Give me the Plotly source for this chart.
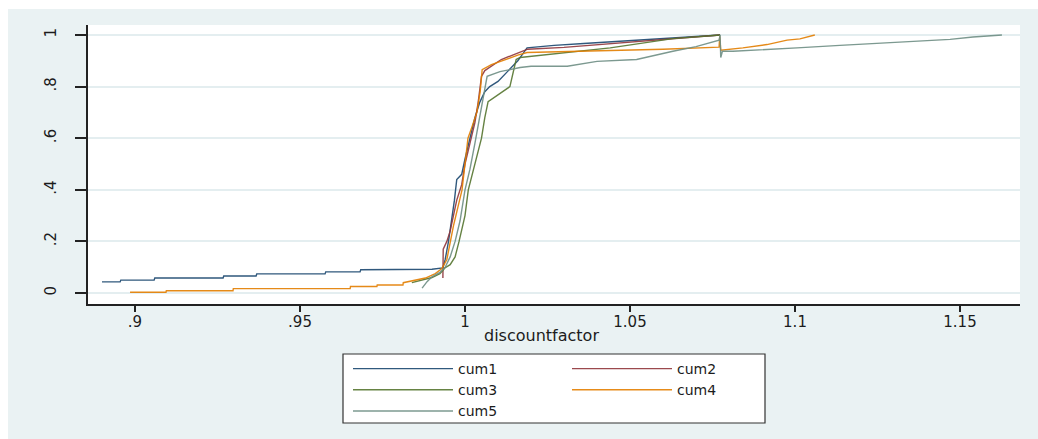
import plotly.graph_objects as go

# Cumulative shares by discount factor, five series
x_cum1 = [0.8900, 0.8955, 0.8957, 0.9058, 0.9060, 0.9267, 0.9269, 0.9367, 0.9369, 0.9576, 0.9578,
          0.9682, 0.9684, 0.9900, 0.9933, 0.9940, 0.9950, 0.9960, 0.9968, 0.9975, 0.9990, 1.0000,
          1.0015, 1.0030, 1.0045, 1.0060, 1.0075, 1.0100, 1.0130, 1.0160, 1.0188, 1.0270, 1.0360,
          1.0510, 1.0640, 1.0773]
y_cum1 = [0.043, 0.043, 0.050, 0.050, 0.058, 0.058, 0.066, 0.066, 0.074, 0.074, 0.082,
          0.082, 0.090, 0.092, 0.097, 0.130, 0.200, 0.280, 0.360, 0.440, 0.460, 0.520,
          0.600, 0.680, 0.740, 0.780, 0.800, 0.820, 0.860, 0.900, 0.950, 0.960, 0.967,
          0.979, 0.989, 1.000]

x_cum2 = [0.9933, 0.9934, 0.9945, 0.9955, 0.9965, 0.9975, 0.9990, 1.0000, 1.0015, 1.0030, 1.0040,
          1.0050, 1.0060, 1.0080, 1.0110, 1.0150, 1.0190, 1.0300, 1.0400, 1.0550, 1.0660, 1.0773]
y_cum2 = [0.058, 0.170, 0.200, 0.240, 0.300, 0.360, 0.420, 0.500, 0.580, 0.660, 0.740,
          0.840, 0.862, 0.880, 0.905, 0.925, 0.945, 0.952, 0.962, 0.975, 0.986, 1.000]

x_cum3 = [0.9839, 0.9870, 0.9900, 0.9924, 0.9939, 0.9955, 0.9970, 0.9982, 0.9990, 1.0000, 1.0010,
          1.0020, 1.0035, 1.0050, 1.0060, 1.0070, 1.0136, 1.0155, 1.0167, 1.0220, 1.0350, 1.0440,
          1.0630, 1.0773]
y_cum3 = [0.040, 0.050, 0.060, 0.075, 0.097, 0.110, 0.140, 0.200, 0.250, 0.300, 0.400,
          0.450, 0.520, 0.600, 0.680, 0.742, 0.800, 0.905, 0.913, 0.920, 0.937, 0.950,
          0.986, 1.000]

x_cum4 = [0.8985, 0.9094, 0.9095, 0.9297, 0.9298, 0.9652, 0.9653, 0.9733, 0.9734, 0.9812, 0.9813,
          0.9839, 0.9880, 0.9910, 0.9930, 0.9945, 0.9955, 0.9965, 0.9978, 0.9991, 1.0000, 1.0009,
          1.0020, 1.0036, 1.0046, 1.0052, 1.0080, 1.0120, 1.0160, 1.0188, 1.0300, 1.0470, 1.0600,
          1.0770, 1.0772, 1.0775, 1.0842, 1.0915, 1.0976, 1.1015, 1.1060]
y_cum4 = [0.003, 0.003, 0.009, 0.009, 0.017, 0.017, 0.025, 0.025, 0.031, 0.031, 0.040,
          0.048, 0.058, 0.075, 0.095, 0.130, 0.200, 0.260, 0.330, 0.400, 0.500, 0.600,
          0.640, 0.700, 0.780, 0.866, 0.885, 0.905, 0.922, 0.932, 0.935, 0.940, 0.945,
          0.953, 0.995, 0.941, 0.950, 0.963, 0.980, 0.985, 1.000]

x_cum5 = [0.9870, 0.9885, 0.9900, 0.9924, 0.9940, 0.9955, 0.9970, 0.9985, 1.0000, 1.0015, 1.0030,
          1.0045, 1.0060, 1.0067, 1.0106, 1.0167, 1.0200, 1.0310, 1.0400, 1.0520, 1.0630, 1.0700,
          1.0770, 1.0773, 1.0775, 1.0780, 1.0812, 1.0945, 1.1006, 1.1136, 1.1267, 1.1339, 1.1470,
          1.1539, 1.1627]
y_cum5 = [0.019, 0.044, 0.063, 0.080, 0.100, 0.140, 0.200, 0.280, 0.400, 0.480, 0.580,
          0.680, 0.790, 0.840, 0.858, 0.874, 0.879, 0.879, 0.898, 0.905, 0.937, 0.955,
          0.980, 1.000, 0.913, 0.937, 0.937, 0.945, 0.950, 0.960, 0.969, 0.975, 0.983,
          0.992, 1.000]

series_names = ["cum1", "cum2", "cum3", "cum4", "cum5"]
series_x = [x_cum1, x_cum2, x_cum3, x_cum4, x_cum5]
series_y = [y_cum1, y_cum2, y_cum3, y_cum4, y_cum5]
series_colors = ["#1a476f", "#90353b", "#55752f", "#e37e00", "#6e8e84"]
series_legend = ["legend", "legend2", "legend", "legend2", "legend"]

x_tickvals = [0.9, 0.95, 1.0, 1.05, 1.1, 1.15]
x_ticktext = [".9", ".95", "1", "1.05", "1.1", "1.15"]
y_tickvals = [0, 0.2, 0.4, 0.6, 0.8, 1.0]
y_ticktext = ["0", ".2", ".4", ".6", ".8", "1"]

W, H = 1038, 439
L, R, T, B = 88, 18, 25, 135
pw, ph = W - L - R, H - T - B

def px_x(p):
    return (p - L) / pw

def px_y(p):
    return (H - B - p) / ph

FONT = "DejaVu Sans"
TXT = "#1c1c1c"
BG = "#eaf2f3"

fig = go.Figure()
for name, xs, ys, col, lg in zip(series_names, series_x, series_y, series_colors, series_legend):
    fig.add_trace(go.Scatter(
        x=xs, y=ys, mode="lines", name=name, legend=lg,
        line=dict(color=col, width=1.4), opacity=0.9,
    ))

legend_common = dict(
    xref="container", yref="container", xanchor="left", yanchor="top",
    bgcolor="rgba(0,0,0,0)", borderwidth=0, itemwidth=100, tracegroupgap=0,
    font=dict(family=FONT, size=14, color=TXT),
)

fig.update_layout(
    width=W, height=H,
    margin=dict(l=L, r=R, t=T, b=B, pad=0, autoexpand=False),
    paper_bgcolor=BG, plot_bgcolor="white",
    showlegend=True,
    legend=dict(x=348 / W, y=1 - 353 / H, **legend_common),
    legend2=dict(x=567 / W, y=1 - 353 / H, **legend_common),
    xaxis=dict(
        range=[0.88576, 1.16818], tickvals=x_tickvals, ticktext=x_ticktext,
        showgrid=False, zeroline=False, showline=True, linecolor="#222", linewidth=1.6,
        ticks="outside", ticklen=6, tickwidth=1.6, tickcolor="#222",
        tickfont=dict(family=FONT, size=15, color=TXT), ticklabelstandoff=-3,
        automargin=False,
    ),
    yaxis=dict(
        range=[-0.0426, 1.0388], tickvals=y_tickvals, ticktext=y_ticktext,
        showgrid=True, gridcolor="#e4eef0", gridwidth=1.5, zeroline=False,
        showline=True, linecolor="#222", linewidth=1.6,
        ticks="outside", ticklen=11, tickwidth=1.6, tickcolor="#222", tickangle=-90,
        tickfont=dict(family=FONT, size=15, color=TXT), ticklabelstandoff=13,
        automargin=False,
    ),
    shapes=[
        # white strips framing the graph region
        dict(type="rect", xref="paper", yref="paper", x0=px_x(0), x1=px_x(W), y0=px_y(9), y1=px_y(-5),
             fillcolor="white", line=dict(width=0), layer="below"),
        dict(type="rect", xref="paper", yref="paper", x0=px_x(-5), x1=px_x(8), y0=px_y(H + 5), y1=px_y(-5),
             fillcolor="white", line=dict(width=0), layer="below"),
        # legend frame
        dict(type="rect", xref="paper", yref="paper", x0=px_x(343), x1=px_x(765), y0=px_y(423), y1=px_y(354),
             fillcolor="white", line=dict(color="#333", width=1.2), layer="below"),
    ],
    annotations=[
        dict(text="discountfactor", xref="paper", yref="paper", x=px_x(541), y=px_y(335),
             xanchor="center", yanchor="middle", showarrow=False,
             font=dict(family=FONT, size=16, color=TXT)),
    ],
)

fig.write_html("out.html")
